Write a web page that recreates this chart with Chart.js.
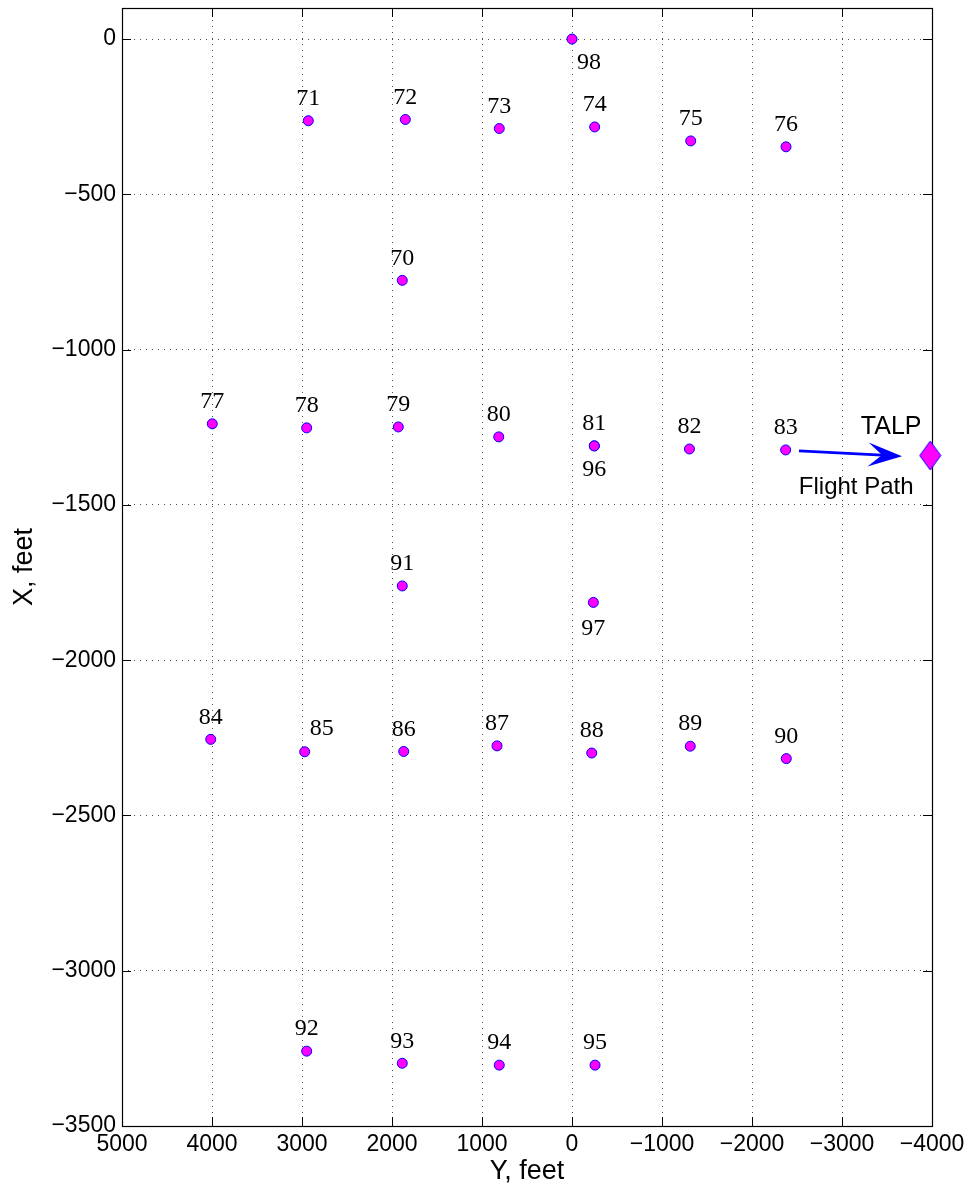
<!DOCTYPE html>
<html>
<head>
<meta charset="utf-8">
<script src="https://cdn.jsdelivr.net/npm/chart.js@4.4.1/dist/chart.umd.min.js"></script>
<style>
  html, body { margin: 0; padding: 0; background: #fff; }
  #wrap { width: 964px; height: 1190px; }
</style>
</head>
<body>
<div id="wrap"><canvas id="c" width="964" height="1190"></canvas></div>
<script>
// Sensor layout: horizontal axis is Y (feet), vertical axis is X (feet)
const sensorIds = ['70','71','72','73','74','75','76','77','78','79','80','81','82','83',
                   '84','85','86','87','88','89','90','91','92','93','94','95','96','97','98'];
const sensorY = [1886, 2930, 1852, 808, -252, -1319, -2378, 3997, 2948, 1930, 814, -248, -1305, -2374,
                 4014, 2970, 1870, 833, -219, -1314, -2381, 1886, 2948, 1886, 808, -256, -248, -237, 0];
const sensorX = [-777, -263, -259, -288, -283, -328, -347, -1239, -1252, -1249, -1281, -1310, -1320, -1323,
                 -2255, -2295, -2294, -2276, -2299, -2277, -2317, -1761, -3259, -3298, -3304, -3304, -1310, -1814, 0];

// TALP position and the flight path arrow (Y, X in feet)
const talpPos = [-3980, -1341];
const flightPathStart = [-2522, -1326];
const flightPathEnd = [-3667, -1343];

// Axis ranges and tick values
const yAxisRange = [-4000, 5000];
const xAxisRange = [-3500, 100];
const yTickValues = [5000, 4000, 3000, 2000, 1000, 0, -1000, -2000, -3000, -4000];
const xTickValues = [0, -500, -1000, -1500, -2000, -2500, -3000, -3500];

const sansFont = '"Liberation Sans", Arial, sans-serif';
const serifFont = '"Liberation Serif", "Times New Roman", serif';

function fmt(v) {
  return v < 0 ? '\u2212' + Math.abs(v) : String(v);
}

// Diamond glyph for the TALP marker
function diamondGlyph() {
  const cv = document.createElement('canvas');
  cv.width = 23; cv.height = 31;
  const g = cv.getContext('2d');
  g.beginPath();
  g.moveTo(11.5, 1); g.lineTo(22, 15.5); g.lineTo(11.5, 30); g.lineTo(1, 15.5); g.closePath();
  g.fillStyle = '#ff00ff'; g.fill();
  g.strokeStyle = '#0000ff'; g.lineWidth = 1; g.stroke();
  return cv;
}

// Where each sensor number sits relative to its marker (pixels)
const labelShift = { '85': [17, -23], '96': [0, 24], '97': [0, 26], '98': [17, 24] };
const defaultShift = [0, -22];

function noEdgePadding(scale) {
  scale.paddingLeft = 0; scale.paddingRight = 0;
  scale.paddingTop = 0; scale.paddingBottom = 0;
}

const framePlugin = {
  id: 'frame',
  beforeDatasetsDraw(chart) {
    const { ctx, chartArea: a, scales } = chart;
    ctx.save();
    ctx.strokeStyle = '#000';
    ctx.lineWidth = 1;
    const tl = 9;
    ctx.beginPath();
    scales.x.ticks.forEach(t => {
      const px = Math.round(scales.x.getPixelForValue(t.value)) + 0.5;
      ctx.moveTo(px, a.bottom); ctx.lineTo(px, a.bottom - tl);
      ctx.moveTo(px, a.top); ctx.lineTo(px, a.top + tl);
    });
    scales.y.ticks.forEach(t => {
      const py = Math.round(scales.y.getPixelForValue(t.value)) + 0.5;
      ctx.moveTo(a.left, py); ctx.lineTo(a.left + tl, py);
      ctx.moveTo(a.right, py); ctx.lineTo(a.right - tl, py);
    });
    ctx.stroke();
    ctx.lineWidth = 1.2;
    ctx.strokeRect(Math.round(a.left) + 0.5, Math.round(a.top) + 0.5,
                   Math.round(a.right - a.left), Math.round(a.bottom - a.top));
    ctx.restore();
  },
  afterDatasetsDraw(chart) {
    const { ctx, scales } = chart;
    const sx = scales.x, sy = scales.y;
    ctx.save();
    // sensor numbers
    ctx.font = '24px ' + serifFont;
    ctx.fillStyle = '#000';
    ctx.textAlign = 'center';
    ctx.textBaseline = 'middle';
    sensorIds.forEach((id, i) => {
      const s = labelShift[id] || defaultShift;
      const px = sx.getPixelForValue(sensorY[i]);
      const py = sy.getPixelForValue(sensorX[i]);
      ctx.fillText(id, px + s[0], py + s[1]);
    });
    // flight path arrow
    const x0 = sx.getPixelForValue(flightPathStart[0]), y0 = sy.getPixelForValue(flightPathStart[1]);
    const x1 = sx.getPixelForValue(flightPathEnd[0]), y1 = sy.getPixelForValue(flightPathEnd[1]);
    const len = Math.hypot(x1 - x0, y1 - y0);
    const dx = (x1 - x0) / len, dy = (y1 - y0) / len;
    const px = -dy, py = dx;
    const L = 34, w = 12, n = 20;
    ctx.strokeStyle = '#0000ff';
    ctx.fillStyle = '#0000ff';
    ctx.lineWidth = 2.8;
    ctx.beginPath();
    ctx.moveTo(x0, y0);
    ctx.lineTo(x1 - n * dx, y1 - n * dy);
    ctx.stroke();
    ctx.beginPath();
    ctx.moveTo(x1, y1);
    ctx.lineTo(x1 - L * dx + w * px, y1 - L * dy + w * py);
    ctx.lineTo(x1 - n * dx, y1 - n * dy);
    ctx.lineTo(x1 - L * dx - w * px, y1 - L * dy - w * py);
    ctx.closePath();
    ctx.fill();
    // TALP and flight path captions
    const tx = sx.getPixelForValue(talpPos[0]), ty = sy.getPixelForValue(talpPos[1]);
    ctx.fillStyle = '#000';
    ctx.font = '25px ' + sansFont;
    ctx.fillText('TALP', tx - 39, ty - 28);
    ctx.font = '24px ' + sansFont;
    ctx.fillText('Flight Path', tx - 74, ty + 32);
    ctx.restore();
  }
};

const sensorData = sensorIds.map((id, i) => ({ x: sensorY[i], y: sensorX[i] }));

new Chart(document.getElementById('c'), {
  type: 'scatter',
  data: {
    datasets: [
      {
        label: 'Sensors',
        data: sensorData,
        pointStyle: 'circle',
        pointRadius: 5,
        pointHoverRadius: 5,
        backgroundColor: '#ff00ff',
        borderColor: '#0000ff',
        borderWidth: 1
      },
      {
        label: 'TALP',
        data: [{ x: talpPos[0], y: talpPos[1] }],
        pointStyle: diamondGlyph(),
        pointRadius: 12,
        clip: false
      }
    ]
  },
  options: {
    responsive: false,
    animation: false,
    events: [],
    layout: { autoPadding: false, padding: { top: 8, right: 32, left: 0, bottom: 0 } },
    plugins: { legend: { display: false }, tooltip: { enabled: false } },
    scales: {
      x: {
        type: 'linear',
        reverse: true,
        min: yAxisRange[0],
        max: yAxisRange[1],
        afterBuildTicks(scale) { scale.ticks = yTickValues.map(v => ({ value: v })); },
        afterFit(scale) { scale.height = 64; noEdgePadding(scale); },
        grid: { color: 'rgba(0,0,0,0.7)', lineWidth: 1, drawTicks: false },
        border: { display: false, dash: [1, 5] },
        ticks: {
          padding: 5,
          color: '#000',
          font: { family: sansFont, size: 23 },
          maxRotation: 0,
          autoSkip: false,
          callback: v => fmt(v)
        },
        title: {
          display: true,
          text: 'Y, feet',
          color: '#000',
          font: { family: sansFont, size: 27 },
          padding: { top: 0, bottom: 2 }
        }
      },
      y: {
        type: 'linear',
        min: xAxisRange[0],
        max: xAxisRange[1],
        afterBuildTicks(scale) { scale.ticks = xTickValues.map(v => ({ value: v })); },
        afterFit(scale) { scale.width = 122; noEdgePadding(scale); },
        grid: { color: 'rgba(0,0,0,0.7)', lineWidth: 1, drawTicks: false },
        border: { display: false, dash: [1, 5] },
        ticks: {
          padding: 6,
          color: '#000',
          font: { family: sansFont, size: 23 },
          autoSkip: false,
          callback: v => fmt(v)
        },
        title: {
          display: true,
          text: 'X, feet',
          color: '#000',
          font: { family: sansFont, size: 27 },
          padding: { top: 8, bottom: 0 }
        }
      }
    }
  },
  plugins: [framePlugin]
});
</script>
</body>
</html>
